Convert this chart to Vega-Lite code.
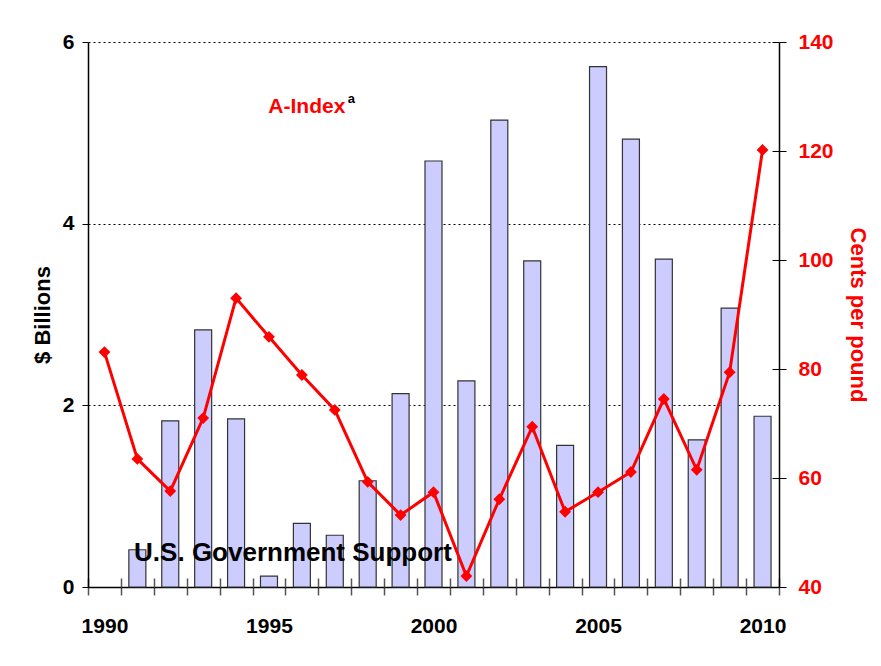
{
  "$schema": "https://vega.github.io/schema/vega-lite/v6.json",
  "width": 691,
  "height": 545,
  "autosize": {"type": "none"},
  "padding": {"left": 88, "top": 42, "right": 102, "bottom": 79},
  "background": "white",
  "config": {
    "view": {"stroke": null},
    "font": "Liberation Sans",
    "axis": {"labelFont": "Liberation Sans", "titleFont": "Liberation Sans", "labelFontWeight": "bold", "titleFontWeight": "bold", "labelFontSize": 21, "titleFontSize": 22}
  },
  "datasets": {
    "support": [
      {"year": 1991, "billions": 0.41},
      {"year": 1992, "billions": 1.83},
      {"year": 1993, "billions": 2.83},
      {"year": 1994, "billions": 1.85},
      {"year": 1995, "billions": 0.12},
      {"year": 1996, "billions": 0.70},
      {"year": 1997, "billions": 0.57},
      {"year": 1998, "billions": 1.17},
      {"year": 1999, "billions": 2.13},
      {"year": 2000, "billions": 4.69},
      {"year": 2001, "billions": 2.27},
      {"year": 2002, "billions": 5.14},
      {"year": 2003, "billions": 3.59},
      {"year": 2004, "billions": 1.56},
      {"year": 2005, "billions": 5.73},
      {"year": 2006, "billions": 4.93},
      {"year": 2007, "billions": 3.61},
      {"year": 2008, "billions": 1.62},
      {"year": 2009, "billions": 3.07},
      {"year": 2010, "billions": 1.88}
    ],
    "aindex": [
      {"year": 1990, "cents": 83.1},
      {"year": 1991, "cents": 63.5},
      {"year": 1992, "cents": 57.6},
      {"year": 1993, "cents": 71.0},
      {"year": 1994, "cents": 93.0},
      {"year": 1995, "cents": 85.9},
      {"year": 1996, "cents": 78.9},
      {"year": 1997, "cents": 72.5},
      {"year": 1998, "cents": 59.3},
      {"year": 1999, "cents": 53.2},
      {"year": 2000, "cents": 57.4},
      {"year": 2001, "cents": 42.0},
      {"year": 2002, "cents": 56.1},
      {"year": 2003, "cents": 69.4},
      {"year": 2004, "cents": 53.8},
      {"year": 2005, "cents": 57.4},
      {"year": 2006, "cents": 61.1},
      {"year": 2007, "cents": 74.5},
      {"year": 2008, "cents": 61.5},
      {"year": 2009, "cents": 79.4},
      {"year": 2010, "cents": 120.2}
    ],
    "labels": [
      {"year": 1996.15, "value": 5.215, "text": "A-Index", "kind": "aindex"},
      {"year": 1995.73, "value": 0.286, "text": "U.S. Government Support", "kind": "support"}
    ],
    "sup": [
      {"year": 1997.5, "value": 5.325, "text": "a"}
    ]
  },
  "layer": [
    {
      "encoding": {
        "x": {
          "field": "year", "type": "quantitative",
          "scale": {"domain": [1989.5, 2010.5], "nice": false, "zero": false, "padding": 0},
          "axis": {
            "title": null,
            "orient": "bottom",
            "values": [1989.5, 1990.5, 1991.5, 1992.5, 1993.5, 1994.5, 1995.5, 1996.5, 1997.5, 1998.5, 1999.5, 2000.5, 2001.5, 2002.5, 2003.5, 2004.5, 2005.5, 2006.5, 2007.5, 2008.5, 2009.5, 2010.5],
            "tickCount": 50,
            "labelExpr": "(datum.value + 0.5) % 5 == 0 ? format(datum.value + 0.5, 'd') : ''",
            "labelOffset": 16.45,
            "labelOverlap": false,
            "labelBound": false,
            "labelFlush": false,
            "labelPadding": 20,
            "labelColor": "black",
            "tickSize": 8,
            "tickColor": "#555555",
            "tickWidth": 1.5,
            "domainColor": "black",
            "domainWidth": 1.5,
            "grid": false
          }
        },
        "y": {
          "type": "quantitative",
          "scale": {"domain": [0, 6], "nice": false}
        }
      },
      "layer": [
        {
          "data": {"name": "support"},
          "mark": {"type": "bar", "size": 17, "fill": "#CCCCFF", "stroke": "#333333", "strokeWidth": 1.2},
          "encoding": {
            "y": {
              "field": "billions", "type": "quantitative",
              "axis": {
                "title": "$ Billions",
                "titleColor": "black",
                "titlePadding": 8,
                "values": [0, 2, 4, 6],
                "format": "d",
                "labelColor": "black",
                "labelPadding": 8,
                "tickSize": 6,
                "tickColor": "black",
                "domainColor": "black",
                "domainWidth": 1.5,
                "grid": true,
                "gridColor": "black",
                "gridDash": [2, 3],
                "gridWidth": 1
              }
            }
          }
        },
        {
          "data": {"name": "labels"},
          "mark": {"type": "text", "fontWeight": "bold", "align": "center", "baseline": "alphabetic", "font": "Liberation Sans"},
          "encoding": {
            "y": {"field": "value", "type": "quantitative"},
            "text": {"field": "text"},
            "color": {"field": "kind", "type": "nominal", "scale": {"domain": ["aindex", "support"], "range": ["#FF0000", "#000000"]}, "legend": null},
            "size": {"field": "kind", "type": "nominal", "scale": {"domain": ["aindex", "support"], "range": [21, 26]}, "legend": null}
          }
        },
        {
          "data": {"name": "sup"},
          "mark": {"type": "text", "fontWeight": "bold", "align": "center", "baseline": "alphabetic", "fontSize": 13, "color": "black", "font": "Liberation Sans"},
          "encoding": {
            "y": {"field": "value", "type": "quantitative"},
            "text": {"field": "text"}
          }
        }
      ]
    },
    {
      "data": {"name": "aindex"},
      "encoding": {
        "x": {
          "field": "year", "type": "quantitative",
          "axis": {
            "title": null,
            "orient": "bottom",
            "values": [1989.5, 1990.5, 1991.5, 1992.5, 1993.5, 1994.5, 1995.5, 1996.5, 1997.5, 1998.5, 1999.5, 2000.5, 2001.5, 2002.5, 2003.5, 2004.5, 2005.5, 2006.5, 2007.5, 2008.5, 2009.5, 2010.5],
            "tickCount": 50,
            "labels": false,
            "domain": false,
            "grid": false,
            "tickSize": -9,
            "tickColor": "#555555",
            "tickWidth": 1.5
          }
        },
        "y": {
          "field": "cents", "type": "quantitative",
          "scale": {"domain": [40, 140], "nice": false, "zero": false}
        }
      },
      "layer": [
        {
          "mark": {"type": "line", "color": "#FF0000", "strokeWidth": 3},
          "encoding": {
            "y": {
              "field": "cents", "type": "quantitative",
              "axis": {
                "orient": "right",
                "title": "Cents per pound",
                "titleColor": "#FF0000",
                "titlePadding": 12,
                "values": [40, 60, 80, 100, 120, 140],
                "labelColor": "#FF0000",
                "labelPadding": 12,
                "tickSize": 7,
                "tickColor": "black",
                "domainColor": "black",
                "domainWidth": 1.5,
                "grid": false
              }
            }
          }
        },
        {
          "mark": {"type": "point", "shape": "diamond", "filled": true, "color": "#FF0000", "size": 140, "opacity": 1},
          "encoding": {
            "y": {
              "field": "cents", "type": "quantitative",
              "axis": {
                "orient": "right",
                "title": null,
                "values": [40, 60, 80, 100, 120, 140],
                "labels": false,
                "domain": false,
                "tickSize": -7,
                "tickColor": "black",
                "grid": false
              }
            }
          }
        }
      ],
      "resolve": {"axis": {"y": "independent"}}
    }
  ],
  "resolve": {"scale": {"y": "independent"}, "axis": {"x": "independent"}}
}
